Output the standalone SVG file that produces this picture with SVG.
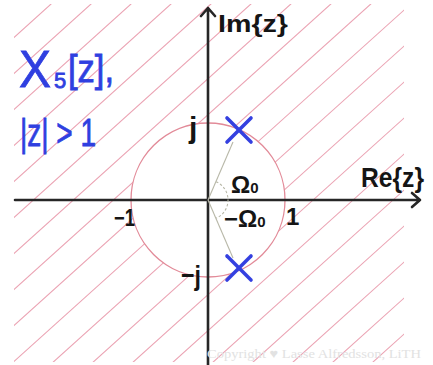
<svg xmlns="http://www.w3.org/2000/svg" width="433" height="365" viewBox="0 0 433 365">
<style>
.hatch line{stroke:#eba3b3;stroke-width:1.1;fill:none}
.axis{stroke:#262626;stroke-width:2.6;fill:none;stroke-linecap:round;stroke-linejoin:round}
.blk{font-family:"Liberation Sans","DejaVu Sans",sans-serif;font-weight:bold;fill:#151515}
.blue{font-family:"Liberation Sans","DejaVu Sans",sans-serif;fill:#2f3fe0;stroke:#2f3fe0;stroke-width:0.8}
.cross{stroke:#3440e0;stroke-width:3.6;stroke-linecap:round}
.guide{stroke:#b8b8a8;stroke-width:1.1;fill:none}
</style>
<defs>
<clipPath id="outside">
<path clip-rule="evenodd" d="M14,4 H404 V362 H14 Z M285,200 A77,77 0 1 0 131,200 A77,77 0 1 0 285,200 Z"/>
</clipPath>
</defs>
<rect width="433" height="365" fill="#ffffff"/>
<g id="roc-hatch" class="hatch" clip-path="url(#outside)">
<line x1="0" y1="50" x2="433" y2="-340"/>
<line x1="0" y1="86" x2="433" y2="-304"/>
<line x1="0" y1="122" x2="433" y2="-268"/>
<line x1="0" y1="158" x2="433" y2="-232"/>
<line x1="0" y1="194" x2="433" y2="-196"/>
<line x1="0" y1="230" x2="433" y2="-160"/>
<line x1="0" y1="266" x2="433" y2="-124"/>
<line x1="0" y1="302" x2="433" y2="-88"/>
<line x1="0" y1="338" x2="433" y2="-52"/>
<line x1="0" y1="374" x2="433" y2="-16"/>
<line x1="0" y1="410" x2="433" y2="20"/>
<line x1="0" y1="446" x2="433" y2="56"/>
<line x1="0" y1="482" x2="433" y2="92"/>
<line x1="0" y1="518" x2="433" y2="128"/>
<line x1="0" y1="554" x2="433" y2="164"/>
<line x1="0" y1="590" x2="433" y2="200"/>
<line x1="0" y1="626" x2="433" y2="236"/>
<line x1="0" y1="662" x2="433" y2="272"/>
<line x1="0" y1="698" x2="433" y2="308"/>
<line x1="0" y1="734" x2="433" y2="344"/>
<line x1="0" y1="770" x2="433" y2="380"/>
</g>
<g id="unit-circle">
<circle cx="208" cy="200" r="77" fill="none" stroke="#e28a98" stroke-width="1.3"/>
</g>
<g id="axes">
<path class="axis" d="M15,200 H420 M412,193 L420,200 L412,207"/>
<path class="axis" d="M208,365 V8 M201,16 L208,8 L215,16"/>
</g>
<g id="angle-guides">
<line class="guide" x1="208" y1="200" x2="233" y2="142"/>
<line class="guide" x1="208" y1="200" x2="233" y2="258"/>
<path class="guide" stroke-dasharray="2.5,2" d="M216.1,181.7 A20,20 0 0 1 216.1,218.3"/>
</g>
<g id="pole-top">
<line class="cross" x1="227" y1="118" x2="251" y2="142"/>
<line class="cross" x1="251" y1="118" x2="227" y2="142"/>
</g>
<g id="pole-bottom">
<line class="cross" x1="227" y1="256" x2="251" y2="280"/>
<line class="cross" x1="251" y1="256" x2="227" y2="280"/>
</g>
<g id="labels">
<text class="blk" x="218" y="32" font-size="24" textLength="70" lengthAdjust="spacingAndGlyphs">Im{z}</text>
<text class="blk" x="361" y="187" font-size="28" textLength="63" lengthAdjust="spacingAndGlyphs">Re{z}</text>
<text class="blk" x="189" y="138" font-size="30">j</text>
<text class="blk" x="181" y="285" font-size="28" textLength="20" lengthAdjust="spacingAndGlyphs">−j</text>
<text class="blk" x="114" y="226" font-size="24" textLength="21" lengthAdjust="spacingAndGlyphs">−1</text>
<text class="blk" x="286" y="225" font-size="24">1</text>
<text class="blk" x="231" y="193" font-size="24">Ω<tspan font-size="15">0</tspan></text>
<text class="blk" x="224" y="227" font-size="24">−Ω<tspan font-size="15">0</tspan></text>
</g>
<g id="title">
<text class="blue" x="19" y="87" font-size="52" textLength="32" lengthAdjust="spacingAndGlyphs">X</text>
<text class="blue" x="54" y="88" font-size="22">5</text>
<text class="blue" x="68" y="82" font-size="38" textLength="46" lengthAdjust="spacingAndGlyphs">[z],</text>
<text class="blue" x="20" y="146" font-size="38" textLength="76" lengthAdjust="spacingAndGlyphs">|z| &gt; 1</text>
</g>
<g id="watermark">
<text x="207" y="358" font-family="'Liberation Serif',serif" font-size="13" fill="#e2e2e2" textLength="214" lengthAdjust="spacingAndGlyphs">Copyright ♥ Lasse Alfredsson, LiTH</text>
</g>
</svg>
